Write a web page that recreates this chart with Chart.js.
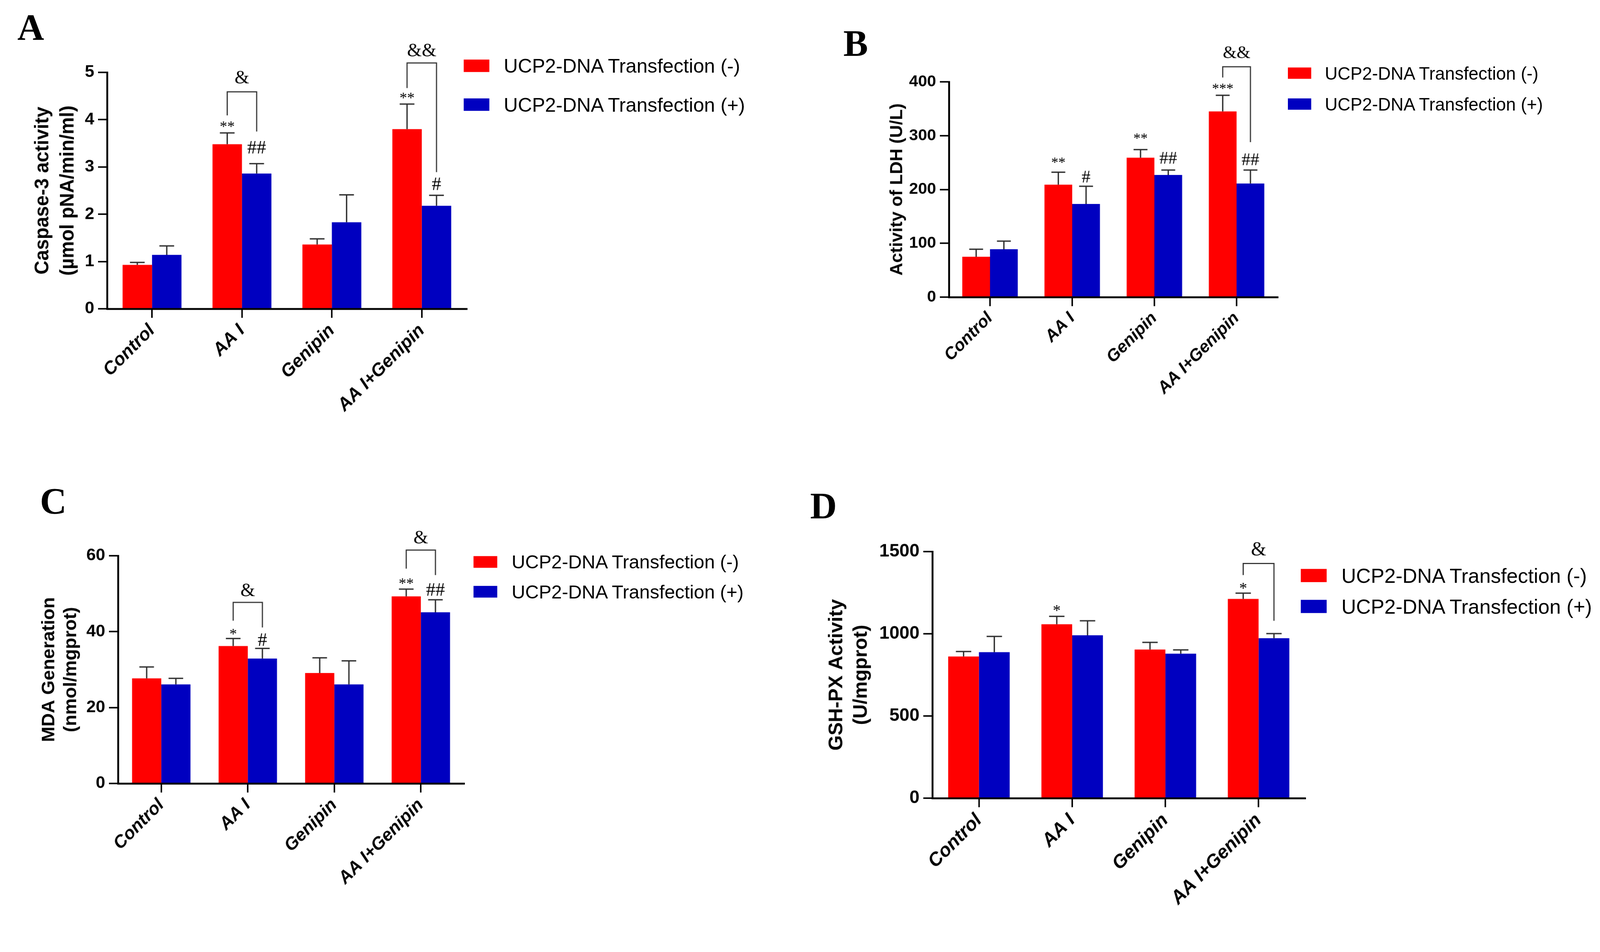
<!DOCTYPE html>
<html>
<head>
<meta charset="utf-8">
<title>UCP2 panels</title>
<script src="https://cdn.jsdelivr.net/npm/chart.js@4.4.1/dist/chart.umd.min.js"></script>
<style>
    html, body { margin: 0; padding: 0; background: #fff; overflow: hidden; }
    #stage { position: absolute; left: 0; top: 0; width: 4244px; height: 2437px; transform-origin: 0 0; font-family: 'Liberation Sans', Arial, sans-serif; background: #fff; }
    canvas { position: absolute; }
    .panel-letter { position: absolute; font-family: 'Liberation Serif', 'Times New Roman', serif; font-weight: bold; font-size: 98px; line-height: 1; color: #000; }
    .legend-box { position: absolute; }
    .legend-text { position: absolute; line-height: 1; white-space: nowrap; color: #000; }
</style>
</head>
<body>
<div id="stage">
<div class="panel-letter" style="left:46px;top:24px">A</div>
<div class="panel-letter" style="left:2237px;top:66px">B</div>
<div class="panel-letter" style="left:106px;top:1281px">C</div>
<div class="panel-letter" style="left:2149px;top:1293px">D</div>
<canvas id="chartA"></canvas>
<canvas id="chartB"></canvas>
<canvas id="chartC"></canvas>
<canvas id="chartD"></canvas>
</div>
<script>
const groups = ['Control', 'AA I', 'Genipin', 'AA I+Genipin'];
const seriesNames = ['UCP2-DNA Transfection (-)', 'UCP2-DNA Transfection (+)'];
const RED = '#ff0000';
const BLUE = '#0000c0';

// A: Caspase-3 activity
const caspaseMinus = [0.93, 3.48, 1.36, 3.80];
const caspasePlus = [1.14, 2.86, 1.83, 2.18];
const caspaseMinusSd = [0.05, 0.24, 0.12, 0.53];
const caspasePlusSd = [0.19, 0.21, 0.58, 0.22];
const caspaseTicks = [0, 1, 2, 3, 4, 5];
// [group, series (0 = -, 1 = +), symbol, value at symbol centre]
const caspaseMarks = [[1, 0, '**', 3.90], [1, 1, '##', 3.42], [3, 0, '**', 4.51], [3, 1, '#', 2.64]];
// [group, bracket top, left leg end, right leg end, symbol, value at symbol centre]
const caspaseBrackets = [[1, 4.59, 4.09, 3.75, '&', 4.90], [3, 5.20, 4.67, 2.89, '&&', 5.47]];

// B: LDH
const ldhMinus = [75, 209, 259, 345];
const ldhPlus = [89, 173, 227, 211];
const ldhMinusSd = [14, 23, 15, 30];
const ldhPlusSd = [15, 33, 9, 25];
const ldhTicks = [0, 100, 200, 300, 400];
const ldhMarks = [[1, 0, '**', 254], [1, 1, '#', 224], [2, 0, '**', 299], [2, 1, '##', 259], [3, 0, '***', 391], [3, 1, '##', 256]];
const ldhBrackets = [[3, 428, 408, 288, '&&', 455]];

// C: MDA
const mdaMinus = [27.7, 36.2, 29.1, 49.3];
const mdaPlus = [26.1, 32.9, 26.1, 45.1];
const mdaMinusSd = [3.0, 2.0, 4.0, 1.9];
const mdaPlusSd = [1.6, 2.7, 6.2, 3.3];
const mdaTicks = [0, 20, 40, 60];
const mdaMarks = [[1, 0, '*', 40.0], [1, 1, '#', 37.9], [3, 0, '**', 53.3], [3, 1, '##', 51.1]];
const mdaBrackets = [[1, 47.7, 42.9, 41.1, '&', 51.0], [3, 61.5, 56.6, 54.9, '&', 64.9]];

// D: GSH-PX
const gshMinus = [862, 1058, 904, 1212];
const gshPlus = [888, 991, 879, 973];
const gshMinusSd = [30, 48, 44, 35];
const gshPlusSd = [96, 88, 23, 28];
const gshTicks = [0, 500, 1000, 1500];
const gshMarks = [[1, 0, '*', 1155], [3, 0, '*', 1291]];
const gshBrackets = [[3, 1428, 1357, 1079, '&', 1516]];

Chart.defaults.font.family = "'Liberation Sans', Arial, sans-serif";
Chart.defaults.color = '#000';

// fit the 4244 x 2437 stage into whatever viewport we get
const stage = document.getElementById('stage');
const fit = Math.min(window.innerWidth / 4244, window.innerHeight / 2437);
stage.style.transform = 'scale(' + fit + ')';

// error bars + significance symbols, drawn through the chart's own scales
const marksPlugin = {
    id: 'marks',
    afterDatasetsDraw(chart, args, opts) {
        const ctx = chart.ctx;
        const yScale = chart.scales.y;
        ctx.save();

        // error bars (upper half only)
        chart.data.datasets.forEach((ds, di) => {
            chart.getDatasetMeta(di).data.forEach((bar, i) => {
                const top = yScale.getPixelForValue(ds.data[i] + ds.sd[i]);
                const half = bar.width / 4;
                ctx.strokeStyle = '#2e2e2e';
                ctx.lineWidth = 3.5;
                ctx.beginPath();
                ctx.moveTo(bar.x, bar.y);
                ctx.lineTo(bar.x, top);
                ctx.moveTo(bar.x - half, top);
                ctx.lineTo(bar.x + half, top);
                ctx.stroke();
            });
        });

        function symbol(text, x, value) {
            const size = text.indexOf('*') >= 0 ? opts.starSize : opts.symSize;
            ctx.font = size + "px 'Liberation Serif', 'Times New Roman', serif";
            ctx.fillStyle = '#000';
            ctx.textAlign = 'center';
            ctx.textBaseline = 'alphabetic';
            const m = ctx.measureText(text);
            const yc = yScale.getPixelForValue(value);
            ctx.fillText(text, x, yc + (m.actualBoundingBoxAscent - m.actualBoundingBoxDescent) / 2);
        }

        const barX = (g, s) => chart.getDatasetMeta(s).data[g].x;

        opts.marks.forEach(m => symbol(m[2], barX(m[0], m[1]), m[3]));

        opts.brackets.forEach(b => {
            const x1 = barX(b[0], 0);
            const x2 = barX(b[0], 1);
            ctx.strokeStyle = '#333';
            ctx.lineWidth = 3;
            ctx.beginPath();
            ctx.moveTo(x1, yScale.getPixelForValue(b[2]));
            ctx.lineTo(x1, yScale.getPixelForValue(b[1]));
            ctx.lineTo(x2, yScale.getPixelForValue(b[1]));
            ctx.lineTo(x2, yScale.getPixelForValue(b[3]));
            ctx.stroke();
            symbol(b[4], (x1 + x2) / 2, b[5]);
        });

        ctx.restore();
    }
};

function makeChart(p) {
    const canvas = document.getElementById(p.id);
    const [cx, cy, cw, ch] = p.box;
    const [L, T, R, B] = p.area;
    canvas.width = cw;
    canvas.height = ch;
    canvas.style.left = cx + 'px';
    canvas.style.top = cy + 'px';
    canvas.style.width = cw + 'px';
    canvas.style.height = ch + 'px';

    const ticks = p.ticks;

    return new Chart(canvas, {
        type: 'bar',
        data: {
            labels: groups,
            datasets: [{
                label: seriesNames[0],
                data: p.minus,
                sd: p.minusSd,
                backgroundColor: RED,
                borderWidth: 0,
                categoryPercentage: p.catPct,
                barPercentage: 1
            }, {
                label: seriesNames[1],
                data: p.plus,
                sd: p.plusSd,
                backgroundColor: BLUE,
                borderWidth: 0,
                categoryPercentage: p.catPct,
                barPercentage: 1
            }]
        },
        options: {
            responsive: false,
            animation: false,
            devicePixelRatio: 1,
            layout: { padding: { left: 0, top: T - cy, right: cx + cw - R, bottom: 0 } },
            plugins: {
                legend: { display: false },
                tooltip: { enabled: false },
                marks: { marks: p.marks, brackets: p.brackets, starSize: p.starSize, symSize: p.symSize }
            },
            scales: {
                x: {
                    grid: { offset: false, drawOnChartArea: false, drawTicks: true, tickLength: 24, color: '#000', lineWidth: 4 },
                    border: { color: '#000', width: 5 },
                    ticks: {
                        color: '#000', autoSkip: false, minRotation: 45, maxRotation: 45, padding: 6,
                        font: { size: p.xFont, weight: 'bold', style: 'italic' }
                    },
                    afterFit: s => { s.height = cy + ch - B; }
                },
                y: {
                    min: ticks[0],
                    max: ticks[ticks.length - 1],
                    ticks: {
                        stepSize: ticks[1] - ticks[0], padding: 10, color: '#000',
                        font: { size: p.yFont, weight: 'bold' },
                        callback: v => String(v)
                    },
                    grid: { drawOnChartArea: false, drawTicks: true, tickLength: 24, color: '#000', lineWidth: 4 },
                    border: { color: '#000', width: 5 },
                    title: {
                        display: true,
                        text: p.title,
                        color: '#000',
                        font: { size: p.titleFont, weight: 'bold', lineHeight: p.titleLh },
                        padding: { top: p.titlePad, bottom: 0 }
                    },
                    afterFit: s => { s.width = L - cx; }
                }
            }
        },
        plugins: [marksPlugin]
    });
}

// legend rows: [box left, box top, box w, box h, gap, font size, row step]
function makeLegend(l) {
    const [x, y, w, h, gap, size, step] = l;
    [RED, BLUE].forEach((col, i) => {
        const top = y + i * step;
        const box = document.createElement('div');
        box.className = 'legend-box';
        box.style.cssText = `left:${x}px;top:${top}px;width:${w}px;height:${h}px;background:${col}`;
        stage.appendChild(box);
        const txt = document.createElement('div');
        txt.className = 'legend-text';
        txt.textContent = seriesNames[i];
        txt.style.cssText = `left:${x + w + gap}px;top:${top + h / 2 - size * 0.5}px;font-size:${size}px`;
        stage.appendChild(txt);
    });
}

makeChart({
    id: 'chartA', box: [0, 0, 2100, 1200], area: [284, 192, 1238, 819],
    minus: caspaseMinus, plus: caspasePlus, minusSd: caspaseMinusSd, plusSd: caspasePlusSd,
    ticks: caspaseTicks, marks: caspaseMarks, brackets: caspaseBrackets,
    catPct: 0.655, xFont: 48, yFont: 45,
    title: ['Caspase-3 activity', '(µmol pNA/min/ml)'], titleFont: 51, titleLh: 1.31, titlePad: 81,
    starSize: 40, symSize: 50
});
makeChart({
    id: 'chartB', box: [2150, 0, 2094, 1200], area: [2517, 217, 3389, 788],
    minus: ldhMinus, plus: ldhPlus, minusSd: ldhMinusSd, plusSd: ldhPlusSd,
    ticks: ldhTicks, marks: ldhMarks, brackets: ldhBrackets,
    catPct: 0.675, xFont: 45, yFont: 43,
    title: 'Activity of LDH (U/L)', titleFont: 47, titleLh: 1.2, titlePad: 202,
    starSize: 38, symSize: 47
});
makeChart({
    id: 'chartC', box: [0, 1230, 2100, 1207], area: [313, 1474, 1231, 2078],
    minus: mdaMinus, plus: mdaPlus, minusSd: mdaMinusSd, plusSd: mdaPlusSd,
    ticks: mdaTicks, marks: mdaMarks, brackets: mdaBrackets,
    catPct: 0.675, xFont: 47, yFont: 45,
    title: ['MDA Generation', '(nmol/mgprot)'], titleFont: 49, titleLh: 1.18, titlePad: 102,
    starSize: 40, symSize: 50
});
makeChart({
    id: 'chartD', box: [2150, 1230, 2094, 1207], area: [2473, 1463, 3462, 2117],
    minus: gshMinus, plus: gshPlus, minusSd: gshMinusSd, plusSd: gshPlusSd,
    ticks: gshTicks, marks: gshMarks, brackets: gshBrackets,
    catPct: 0.66, xFont: 50, yFont: 48,
    title: ['GSH-PX Activity', '(U/mgprot)'], titleFont: 52, titleLh: 1.25, titlePad: 37,
    starSize: 42, symSize: 52
});

makeLegend([1230, 158, 68, 33, 38, 52, 103]);
makeLegend([3416, 179, 62, 30, 36, 47, 82]);
makeLegend([1256, 1475, 63, 31, 38, 50, 79]);
makeLegend([3450, 1509, 69, 35, 39, 54, 82]);
</script>
</body>
</html>
